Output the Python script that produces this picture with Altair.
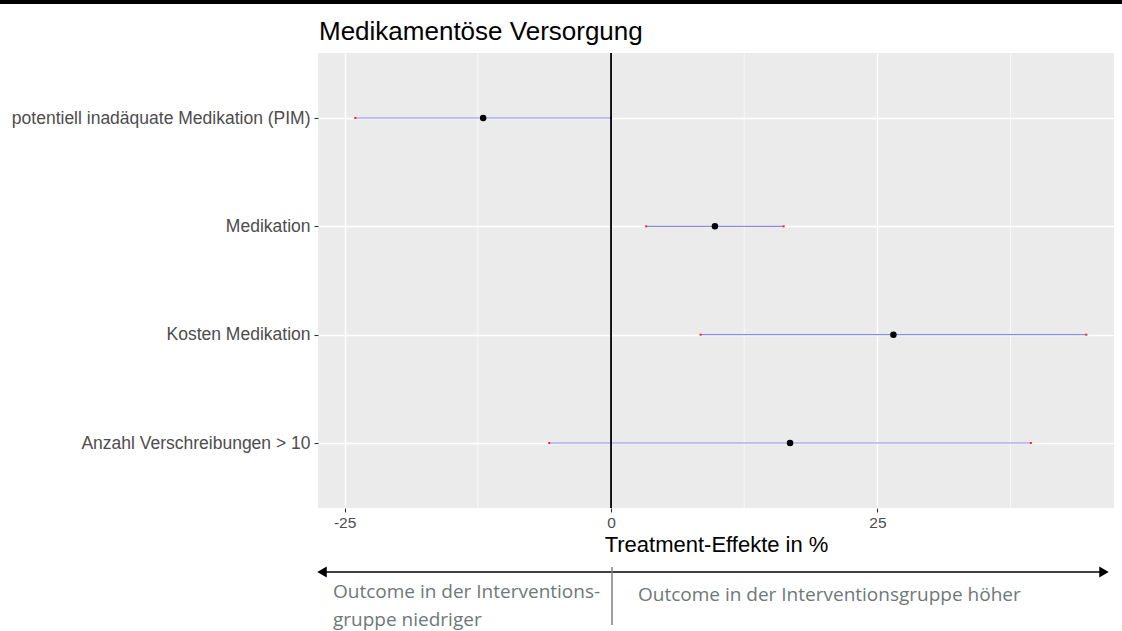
import json
import altair as alt
import pandas as pd

# Forest plot: treatment effects on medication outcomes
outcomes = [
    "potentiell inadäquate Medikation (PIM)",
    "Medikation",
    "Kosten Medikation",
    "Anzahl Verschreibungen > 10",
]
row_pos = [1, 2, 3, 4]
effect = [-12.0, 9.75, 26.5, 16.8]
ci_low = [-24.0, 3.3, 8.4, -5.8]
ci_high = [0.0, 16.2, 44.6, 39.4]

x_ticks = [-25, 0, 25]
x_minor = [-12.5, 12.5, 37.5]
x_domain = [-27.5, 47.2]

title_text = "Medikamentöse Versorgung"
x_title = "Treatment-Effekte in %"
note_left_1 = "Outcome in der Interventions-"
note_left_2 = "gruppe niedriger"
note_right = "Outcome in der Interventionsgruppe höher"

W, H = 796, 455
TOP = 53
FONT = "Liberation Sans"
NOTE_FONT = "Open Sans"
NOTE_COLOR = "#6e7878"

df = pd.DataFrame({"outcome": outcomes, "pos": row_pos, "effect": effect,
                   "lo": ci_low, "hi": ci_high})
minor_df = pd.DataFrame({"m": x_minor})
one = pd.DataFrame({"k": [0]})

label_lookup = json.dumps([""] + outcomes, ensure_ascii=False)

x_scale = alt.Scale(domain=x_domain, nice=False, zero=False)
y_scale = alt.Scale(domain=[0.4, 4.6], reverse=True, nice=False, zero=False)

x_axis = alt.Axis(values=x_ticks, labelExpr="'' + datum.value",
                  grid=True, gridColor="white", gridWidth=1.4,
                  domain=False, tickColor="#333333", tickSize=4, tickWidth=1.1,
                  labelFont=FONT, labelFontSize=15.5, labelColor="#4D4D4D",
                  labelPadding=3, title=x_title, titleFont=FONT, titleFontSize=22,
                  titleFontWeight="normal", titleColor="black", titlePadding=4)
y_axis = alt.Axis(values=row_pos, labelExpr=f"{label_lookup}[datum.value]",
                  labelLimit=400,
                  grid=True, gridColor="white", gridWidth=1.4, domain=False,
                  tickColor="#333333", tickSize=4, tickWidth=1.1,
                  labelFont=FONT, labelFontSize=17.5, labelColor="#4D4D4D",
                  labelPadding=4, title="")

base = alt.Chart(df)

# minor vertical grid lines
minor = alt.Chart(minor_df).mark_rule(color="white", strokeWidth=0.7).encode(
    x=alt.X("m:Q", scale=x_scale, axis=x_axis)
)

ranges = base.mark_rule(color="#8a8ae8", strokeWidth=1.2).encode(
    x=alt.X("lo:Q", scale=x_scale, axis=x_axis),
    x2="hi:Q",
    y=alt.Y("pos:Q", scale=y_scale, axis=y_axis),
)

caps_lo = base.mark_point(shape="square", filled=True, color="#ff2020",
                          size=4, opacity=1).encode(
    x=alt.X("lo:Q", scale=x_scale), y=alt.Y("pos:Q", scale=y_scale))
caps_hi = base.mark_point(shape="square", filled=True, color="#ff2020",
                          size=4, opacity=1).encode(
    x=alt.X("hi:Q", scale=x_scale), y=alt.Y("pos:Q", scale=y_scale))

zero_line = alt.Chart(one).mark_rule(color="black", strokeWidth=1.8).encode(
    x=alt.datum(0, scale=x_scale)
)

points = base.mark_point(shape="circle", filled=True, color="black",
                         size=42, opacity=1).encode(
    x=alt.X("effect:Q", scale=x_scale), y=alt.Y("pos:Q", scale=y_scale))

title = alt.Chart(one).mark_text(
    text=title_text, font=FONT, fontSize=26, color="black",
    align="left", baseline="alphabetic"
).encode(x=alt.value(1), y=alt.value(-13))

top_bar = alt.Chart(one).mark_rule(color="black", strokeWidth=4).encode(
    x=alt.value(-318), x2=alt.value(W + 8), y=alt.value(2 - TOP)
)

arrow_line = alt.Chart(one).mark_rule(color="black", strokeWidth=1.6).encode(
    x=alt.value(4), x2=alt.value(W - 10), y=alt.value(572 - TOP)
)
arrow_left = alt.Chart(one).mark_point(shape="triangle-left", filled=True,
                                       color="black", size=120, opacity=1).encode(
    x=alt.value(4), y=alt.value(572 - TOP))
arrow_right = alt.Chart(one).mark_point(shape="triangle-right", filled=True,
                                        color="black", size=120, opacity=1).encode(
    x=alt.value(W - 10), y=alt.value(572 - TOP))

divider = alt.Chart(one).mark_rule(color="#7f7f7f", strokeWidth=1.5).encode(
    x=alt.value(294), y=alt.value(567 - TOP), y2=alt.value(625 - TOP)
)

note_l1 = alt.Chart(one).mark_text(
    text=note_left_1, font=NOTE_FONT, fontSize=19, color=NOTE_COLOR,
    align="left", baseline="middle").encode(x=alt.value(15), y=alt.value(592 - TOP))
note_l2 = alt.Chart(one).mark_text(
    text=note_left_2, font=NOTE_FONT, fontSize=19, color=NOTE_COLOR,
    align="left", baseline="middle").encode(x=alt.value(15), y=alt.value(620 - TOP))
note_r = alt.Chart(one).mark_text(
    text=note_right, font=NOTE_FONT, fontSize=19, color=NOTE_COLOR,
    align="left", baseline="middle").encode(x=alt.value(320), y=alt.value(595 - TOP))

chart = alt.layer(
    minor, ranges, caps_lo, caps_hi, zero_line, points,
    title, top_bar, arrow_line, arrow_left, arrow_right, divider,
    note_l1, note_l2, note_r,
).properties(
    width=W, height=H,
    padding={"left": 318, "top": TOP, "right": 8, "bottom": 123},
    autosize=alt.AutoSizeParams(type="none"),
    background="white",
).configure_view(fill="#EBEBEB", stroke=None)

chart.save("out.html", embed_options={"renderer": "svg", "actions": False})
